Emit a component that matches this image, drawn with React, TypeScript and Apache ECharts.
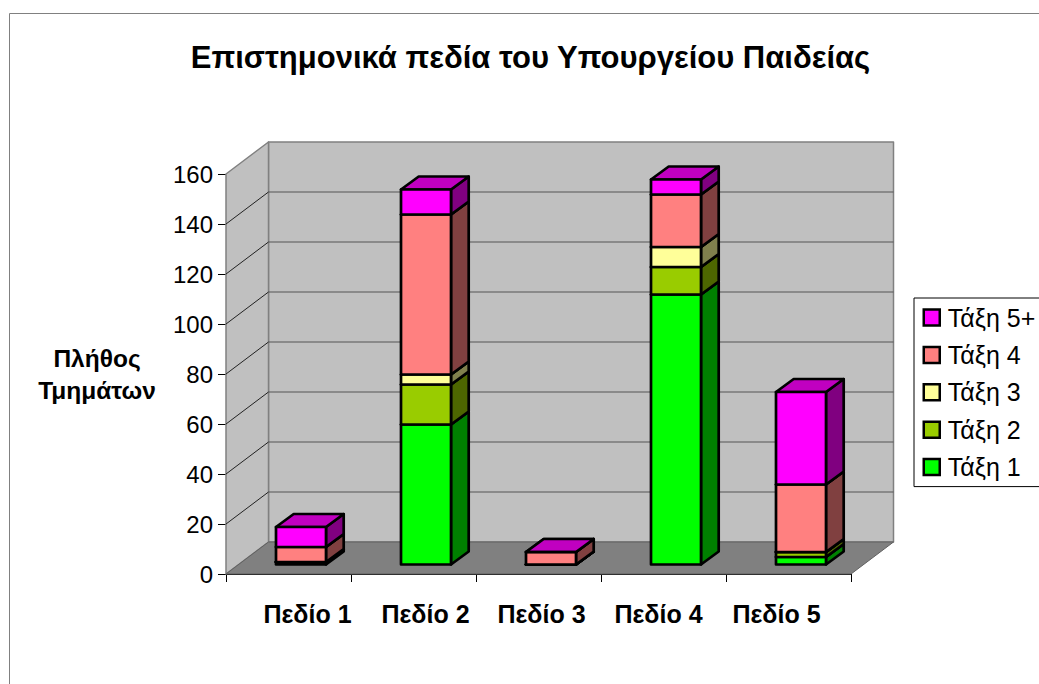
import React, { useEffect, useRef } from "react";
import * as echarts from "echarts";

const categories = ["Πεδίο 1", "Πεδίο 2", "Πεδίο 3", "Πεδίο 4", "Πεδίο 5"];
const seriesNames = ["Τάξη 1", "Τάξη 2", "Τάξη 3", "Τάξη 4", "Τάξη 5+"];
const taxi1 = [1, 56, 0, 108, 3];
const taxi2 = [0, 16, 0, 11, 2];
const taxi3 = [0, 4, 0, 8, 0];
const taxi4 = [6, 64, 5, 21, 27];
const taxi5 = [8, 10, 0, 6, 37];
const allValues = [taxi1, taxi2, taxi3, taxi4, taxi5];
const frontColors = ["#00FF00", "#99CC00", "#FFFF99", "#FF8080", "#FF00FF"];
const sideColors = ["#008000", "#4D6600", "#80804D", "#804040", "#800080"];
const topColors = ["#00C000", "#739900", "#C0C073", "#C06060", "#C000C0"];
const labelShift = [19, 12, 3, -5, -12];

const DEPTH_X = 42.5;
const DEPTH_Y = 32;
const BAR_SHIFT_X = 12.5;
const BAR_SHIFT_Y = 9.5;
const BAR_W = 50;
const BAR_DX = 17.7;
const BAR_DY = 13;
const EDGE = 2.7;

const poly = (points: number[][], fill: string, stroke: string, lineWidth: number) => ({
  type: "polygon",
  shape: { points },
  style: { fill, stroke, lineWidth, lineJoin: "round" },
});
const seg = (a: number[], b: number[], stroke: string, lineWidth: number) => ({
  type: "line",
  shape: { x1: a[0], y1: a[1], x2: b[0], y2: b[1] },
  style: { stroke, lineWidth },
});

const renderWalls = (params: any, api: any) => {
  const c = params.coordSys;
  const l = c.x, r = c.x + c.width, t = c.y, b = c.y + c.height;
  const children: any[] = [
    poly([[l + DEPTH_X, t - DEPTH_Y], [r + DEPTH_X, t - DEPTH_Y], [r + DEPTH_X, b - DEPTH_Y], [l + DEPTH_X, b - DEPTH_Y]], "#C0C0C0", "#808080", 1.5),
    poly([[l, t], [l + DEPTH_X, t - DEPTH_Y], [l + DEPTH_X, b - DEPTH_Y], [l, b]], "#C0C0C0", "#808080", 1.5),
    poly([[l, b], [r, b], [r + DEPTH_X, b - DEPTH_Y], [l + DEPTH_X, b - DEPTH_Y]], "#808080", "#606060", 1),
  ];
  for (let v = 20; v < 160; v += 20) {
    const y = api.coord([0, v])[1];
    children.push(seg([l, y], [l + DEPTH_X, y - DEPTH_Y], "#222222", 1));
    children.push(seg([l + DEPTH_X, y - DEPTH_Y], [r + DEPTH_X, y - DEPTH_Y], "#555555", 1.2));
  }
  return { type: "group", children };
};

const makeRenderBar = (s: number) => (_params: any, api: any) => {
  const i = api.value(0);
  let below = 0;
  for (let k = 0; k < s; k++) below += allValues[k][i];
  const top = below + allValues[s][i];
  const p0 = api.coord([i, below]);
  const p1 = api.coord([i, top]);
  const x0 = p0[0] + BAR_SHIFT_X - BAR_W / 2;
  const x1 = x0 + BAR_W;
  const y0 = p0[1] - BAR_SHIFT_Y;
  const y1 = p1[1] - BAR_SHIFT_Y;
  return {
    type: "group",
    children: [
      poly([[x1, y0], [x1 + BAR_DX, y0 - BAR_DY], [x1 + BAR_DX, y1 - BAR_DY], [x1, y1]], sideColors[s], "#000", EDGE),
      poly([[x0, y1], [x1, y1], [x1 + BAR_DX, y1 - BAR_DY], [x0 + BAR_DX, y1 - BAR_DY]], topColors[s], "#000", EDGE),
      poly([[x0, y0], [x1, y0], [x1, y1], [x0, y1]], frontColors[s], "#000", EDGE),
    ],
  };
};

export default function App() {
  const ref = useRef<HTMLDivElement>(null);
  useEffect(() => {
    document.body.style.margin = "0";
    document.body.style.overflow = "hidden";
    const chart = echarts.init(ref.current!, undefined, { renderer: "svg" });
    const font = '"Liberation Sans", Arial, sans-serif';
    const rich: any = {};
    labelShift.forEach((d, i) => {
      rich["c" + i] = {
        fontFamily: font,
        fontSize: 25,
        fontWeight: "bold",
        color: "#000",
        padding: d > 0 ? [0, 0, 0, d * 2] : [0, -d * 2, 0, 0],
      };
    });
    chart.setOption({
      animation: false,
      backgroundColor: "#fff",
      title: {
        text: "Επιστημονικά πεδία του Υπουργείου Παιδείας",
        left: 525.5,
        top: 37,
        textAlign: "center",
        textStyle: { fontFamily: font, fontSize: 31, fontWeight: "bold", color: "#000" },
      },
      grid: { left: 226, top: 174, width: 625, height: 400, containLabel: false },
      xAxis: {
        type: "category",
        data: categories,
        axisLine: { lineStyle: { color: "#000", width: 1 } },
        axisTick: { show: true, length: 8, alignWithLabel: false, lineStyle: { color: "#000" } },
        axisLabel: {
          interval: 0,
          margin: 27,
          formatter: (v: string) => `{c${categories.indexOf(v)}|${v}}`,
          rich,
        },
      },
      yAxis: {
        type: "value",
        min: 0,
        max: 160,
        interval: 20,
        name: "Πλήθος\nΤμημάτων",
        nameLocation: "middle",
        nameRotate: 0,
        nameGap: 129,
        nameTextStyle: { fontFamily: font, fontSize: 24.5, fontWeight: "bold", color: "#000", lineHeight: 32, align: "center" },
        axisLine: { show: true, lineStyle: { color: "#333", width: 1 } },
        axisTick: { show: true, length: 8, lineStyle: { color: "#000" } },
        axisLabel: { margin: 13, fontFamily: font, fontSize: 24, color: "#000" },
        splitLine: { show: false },
      },
      legend: {
        orient: "vertical",
        left: 914,
        top: 298,
        data: [...seriesNames].reverse(),
        icon: "rect",
        itemWidth: 16,
        itemHeight: 16,
        itemGap: 12.4,
        padding: [7, 30, 7, 8.5],
        backgroundColor: "#fff",
        borderColor: "#000",
        borderWidth: 1,
        itemStyle: { borderColor: "#000", borderWidth: 2.5 },
        textStyle: { fontFamily: font, fontSize: 25, color: "#000", padding: [0, 0, 0, 3] },
        selectedMode: false,
      },
      graphic: [
        {
          type: "rect",
          z: -10,
          silent: true,
          shape: { x: 9.5, y: 13.5, width: 1200, height: 1000 },
          style: { fill: "none", stroke: "#808080", lineWidth: 1 },
        },
      ],
      series: [
        {
          type: "custom",
          name: "walls",
          z: 1,
          silent: true,
          clip: false,
          data: [[0, 0]],
          renderItem: renderWalls,
        },
        ...seriesNames.map((name, s) => ({
          type: "custom",
          name,
          z: 5,
          silent: true,
          clip: false,
          itemStyle: { color: frontColors[s], borderColor: "#000", borderWidth: 2.5 },
          data: allValues[s].map((v, i) => [i, v]),
          renderItem: makeRenderBar(s),
        })),
      ],
    });
    return () => chart.dispose();
  }, []);
  return <div ref={ref} style={{ position: "absolute", left: 0, top: 0, width: 1039, height: 684 }} />;
}
